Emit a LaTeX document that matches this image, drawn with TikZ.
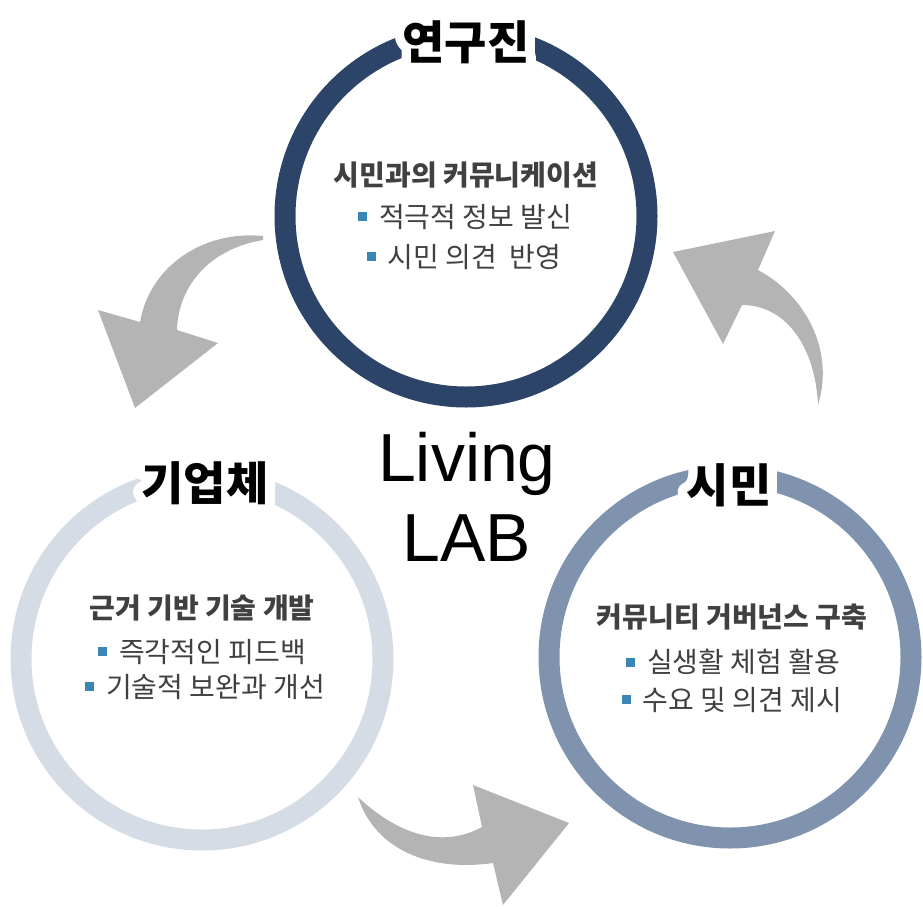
\documentclass[tikz,border=0pt]{standalone}
\usepackage{fontspec}
\setmainfont{Liberation Sans}
\newfontfamily\krfont{Noto Sans CJK KR}
\usetikzlibrary{positioning}
\definecolor{navyring}{HTML}{2B4468}
\definecolor{paleblue}{HTML}{D5DCE6}
\definecolor{slateblue}{HTML}{7F93AE}
\definecolor{arrowgray}{HTML}{B4B4B4}
\definecolor{bodygray}{HTML}{404040}
\definecolor{bulletblue}{HTML}{3A86B6}
\newcommand{\sqbul}{\textcolor{bulletblue}{\rule[6pt]{9pt}{9pt}}\hspace{12pt}}
\newcommand{\haloed}[1]{\special{pdf:literal direct 2 Tr 20 w 1 j 1 J}#1\special{pdf:literal direct 0 Tr 1 w}}

\begin{document}
\begin{tikzpicture}[x=1pt,y=-1pt,
  ring/.style={circle,draw=#1,line width=21pt,minimum size=362pt,inner sep=0pt},
  ttl/.style={font=\krfont\bfseries\fontsize{46}{52}\selectfont,inner sep=0pt},
  glow/.style={ttl,text=white},
  hd/.style={font=\krfont\bfseries\fontsize{28}{32}\selectfont,text=bodygray},
  item/.style={font=\krfont\fontsize{28}{32}\selectfont,text=bodygray},
  blk/.style={fill=arrowgray,draw=none}]
\useasboundingbox (0,0) rectangle (923,908);
% rings
\node[ring=navyring] (yeon) at (466,216) {};
\node[ring=paleblue] (giup) at (202,659) {};
\node[ring=slateblue] (simin) at (730,657) {};
% turning arrows
\fill[blk] (263,236) .. controls (205,230) and (150,265) .. (140,322) -- (98,310) -- (135,408) -- (218,343) -- (177,330) .. controls (178,290) and (205,250) .. (263,240) -- cycle;
\fill[blk] (358,797) .. controls (395,832) and (440,850) .. (482,827) -- (473,785) -- (569,823) -- (503,905) -- (493,863) .. controls (430,872) and (375,850) .. (358,797) -- cycle;
\fill[blk] (818,405) .. controls (835,350) and (805,295) .. (758,270) -- (775,231) -- (673,252) -- (723,344) -- (742,305) .. controls (785,305) and (815,345) .. (818,405) -- cycle;
% titles with white glow
\node[glow] (yeonglow) at (466,42) {\haloed{연구진}};
\node[glow] (giupglow) at (205,483) {\haloed{기업체}};
\node[glow] (siminglow) at (729,485) {\haloed{시민}};
\node[ttl] (yeont) at (466,42) {연구진};
\node[ttl] (giupt) at (205,483) {기업체};
\node[ttl] (simint) at (729,485) {시민};
% centre
\node[font=\fontsize{68}{80}\selectfont,align=center] (living) at (467,497) {Living\\LAB};
% contents
\node[hd] (yeonhd) at (466,175) {시민과의 커뮤니케이션};
\node[item] (yeon1) at (465,217) {\sqbul 적극적 정보 발신};
\node[item] (yeon2) at (464,257) {\sqbul 시민 의견\ \ 반영};
\node[hd] (giuphd) at (202,608) {근거 기반 기술 개발};
\node[item] (giup1) at (202,652) {\sqbul 즉각적인 피드백};
\node[item] (giup2) at (205,687) {\sqbul 기술적 보완과 개선};
\node[hd] (siminhd) at (732,617) {커뮤니티 거버넌스 구축};
\node[item] (simin1) at (733,662) {\sqbul 실생활 체험 활용};
\node[item] (simin2) at (732,700) {\sqbul 수요 및 의견 제시};
\end{tikzpicture}
\end{document}
